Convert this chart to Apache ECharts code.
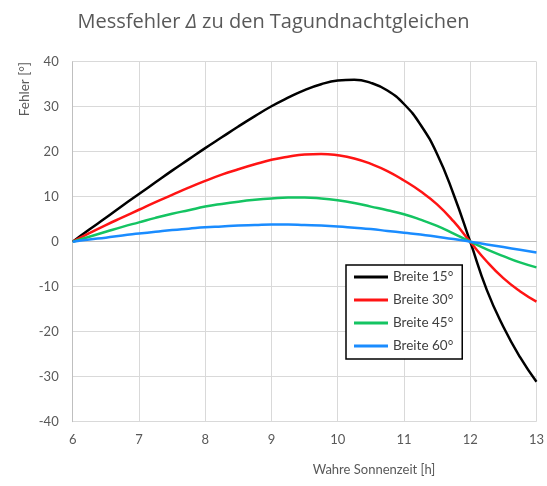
<!DOCTYPE html>
<html>
<head>
<meta charset="utf-8">
<script src="https://cdn.jsdelivr.net/npm/echarts@6/dist/echarts.min.js"></script>
<style>
html,body{margin:0;padding:0;background:#fff;}
#chart{width:547px;height:486px;}
</style>
</head>
<body>
<div id="chart"></div>
<script>
const hours = [6, 6.25, 6.5, 6.75, 7, 7.25, 7.5, 7.75, 8, 8.25, 8.5, 8.75, 9, 9.25, 9.5, 9.75,
               10, 10.25, 10.5, 10.75, 11, 11.25, 11.5, 11.75, 12, 12.25, 12.5, 12.75, 13];
const breite15 = [0, 2.7, 5.3, 8.0, 10.6, 13.2, 15.8, 18.3, 20.8, 23.2, 25.6, 27.9, 30.1, 32.0, 33.7, 35.0,
                  35.8, 36.0, 35.3, 33.6, 30.6, 26.0, 19.5, 10.5, 0, -10.7, -18.9, -25.6, -31.1];
const breite30 = [0, 1.9, 3.7, 5.4, 7.1, 8.8, 10.4, 12.0, 13.5, 14.9, 16.1, 17.2, 18.2, 18.9, 19.4, 19.5,
                  19.2, 18.5, 17.3, 15.7, 13.6, 11.2, 8.3, 4.5, 0, -4.4, -8.1, -11.0, -13.3];
const breite45 = [0, 1.1, 2.2, 3.3, 4.3, 5.3, 6.2, 7.0, 7.8, 8.4, 8.9, 9.3, 9.6, 9.8, 9.8, 9.6,
                  9.2, 8.6, 7.8, 7.0, 6.1, 4.9, 3.5, 1.8, 0, -1.7, -3.2, -4.6, -5.7];
const breite60 = [0, 0.5, 0.9, 1.4, 1.8, 2.2, 2.6, 2.9, 3.2, 3.4, 3.6, 3.7, 3.8, 3.8, 3.7, 3.6,
                  3.4, 3.1, 2.8, 2.4, 2.0, 1.6, 1.1, 0.6, 0, -0.6, -1.2, -1.8, -2.4];
const seriesNames = ['Breite 15°', 'Breite 30°', 'Breite 45°', 'Breite 60°'];
const seriesColors = ['#000000', '#ff1414', '#14c462', '#1a8cff'];
const seriesValues = [breite15, breite30, breite45, breite60];

const FONT = 'Lato, "Open Sans", sans-serif';
const TFONT = '"Open Sans", Lato, sans-serif';
const chart = echarts.init(document.getElementById('chart'));
chart.setOption({
  animation: false,
  backgroundColor: '#ffffff',
  title: {
    text: '{a|Messfehler }{i|Δ}{a| zu den Tagundnachtgleichen}',
    left: 'center',
    top: 7,
    textStyle: {
      fontWeight: 'normal',
      rich: {
        a: { fontFamily: TFONT, fontSize: 20, color: '#595959', fontWeight: 'normal' },
        i: { fontFamily: TFONT, fontSize: 20, color: '#595959', fontWeight: 'normal', fontStyle: 'italic' }
      }
    }
  },
  grid: { left: 72.7, right: 10.3, top: 61.7, bottom: 64.3 },
  xAxis: {
    type: 'value', min: 6, max: 13, interval: 1,
    axisLine: { show: true, lineStyle: { color: '#bfbfbf', width: 1 } },
    axisTick: { show: false },
    splitLine: { show: true, lineStyle: { color: '#d9d9d9', width: 1 } },
    axisLabel: { color: '#595959', fontFamily: FONT, fontSize: 13, margin: 12 }
  },
  yAxis: {
    type: 'value', min: -40, max: 40, interval: 10,
    axisLine: { show: true, lineStyle: { color: '#bfbfbf', width: 1 } },
    axisTick: { show: false },
    splitLine: { show: true, lineStyle: { color: '#d9d9d9', width: 1 } },
    axisLabel: { color: '#595959', fontFamily: FONT, fontSize: 13, margin: 14 }
  },
  legend: {
    orient: 'vertical',
    left: 346, top: 265,
    backgroundColor: '#ffffff',
    borderColor: '#000000', borderWidth: 1.5,
    padding: [4, 9, 5, 8],
    itemWidth: 34, itemHeight: 3, itemGap: 7,
    icon: 'rect',
    textStyle: { color: '#404040', fontFamily: FONT, fontSize: 13.5, lineHeight: 16 },
    data: seriesNames
  },
  graphic: [
    {
      type: 'text', x: 25, y: 62, rotation: Math.PI / 2,
      style: { text: 'Fehler [°]', fill: '#595959', font: '13.5px ' + FONT, align: 'right', verticalAlign: 'middle' }
    },
    {
      type: 'text', x: 374, y: 470,
      style: { text: 'Wahre Sonnenzeit [h]', fill: '#595959', font: '13px ' + FONT, align: 'center', verticalAlign: 'middle' }
    }
  ],
  series: seriesNames.map((n, k) => ({
    name: n,
    type: 'line',
    smooth: 0.5,
    showSymbol: false,
    symbol: 'none',
    color: seriesColors[k],
    lineStyle: { width: 2.5, color: seriesColors[k] },
    data: hours.map((h, i) => [h, seriesValues[k][i]])
  }))
});
</script>
</body>
</html>
